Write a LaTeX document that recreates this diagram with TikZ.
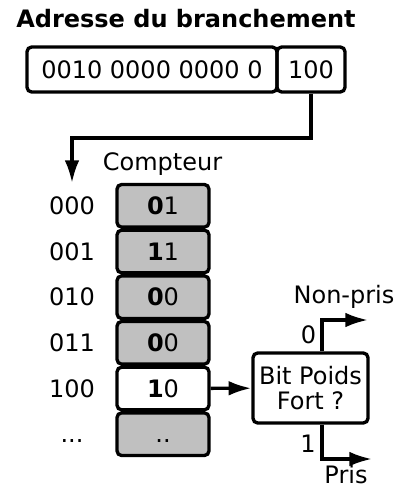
\documentclass[tikz,border=0pt]{standalone}
\usepackage{fontspec}
\setmainfont{DejaVu Sans}
\usetikzlibrary{arrows.meta}
\definecolor{cellgray}{RGB}{192,192,192}

\begin{document}
\begin{tikzpicture}[x=0.75pt,y=-0.75pt,>={Latex[length=17pt,width=11pt]},
		line width=2.5pt,
		every node/.style={font=\fontsize{18}{19}\selectfont},
		box/.style={draw,rounded corners=3.5pt,inner sep=0pt,minimum height=33.75pt},
		cell/.style={box,fill=cellgray,minimum width=69pt,minimum height=32pt}]
	\useasboundingbox (0,0) rectangle (406,488);

	\node[font=\fontsize{18}{19}\selectfont\bfseries,anchor=base] (titre) at (186,28) {Adresse du branchement};
	\node[box,minimum width=187.5pt] (adr) at (152,69.5) {0010 0000 0000 0};
	\node[box,minimum width=51pt] (idx) at (311,69.5) {100};

	\node[anchor=base] (cpt) at (162.5,171) {Compteur};

	\node[cell] (c0) at (163,205.8) {\textbf{0}1};
	\node[cell] (c1) at (163,251.5) {\textbf{1}1};
	\node[cell] (c2) at (163,297.2) {\textbf{0}0};
	\node[cell] (c3) at (163,342.8) {\textbf{0}0};
	\node[cell,fill=white] (c4) at (163,388.5) {\textbf{1}0};
	\node[cell] (c5) at (163,434.2) {\vphantom{0}..};

	\node (l0) at (72,205.8) {000};
	\node (l1) at (72,251.5) {001};
	\node (l2) at (72,297.2) {010};
	\node (l3) at (72,342.8) {011};
	\node (l4) at (72,388.5) {100};
	\node (l5) at (72,434.2) {\vphantom{0}...};

	% index -> table
	\coordinate (coude) at (72,138);
	\coordinate (ptr) at (72,183);
	\draw[->] (idx.south) |- (coude) -- (ptr);

	\node[box,minimum width=86.25pt,minimum height=52.5pt,align=center] (bpf) at (310.5,388) {Bit Poids\\Fort ?};
	\draw[->] (c4) -- (bpf);

	% sorties
	\coordinate (s0) at (322,320);
	\coordinate (f0) at (368,320);
	\coordinate (s1) at (322,459);
	\coordinate (f1) at (372,459);
	\draw[->] (s0 |- bpf.north) -- (s0) -- (f0);
	\draw[->] (s1 |- bpf.south) -- (s1) -- (f1);

	\node (zero) at (308.5,334.5) {0};
	\node (un) at (308,443.5) {1};
	\node[anchor=base] (nonpris) at (344,303) {Non-pris};
	\node[anchor=base,inner sep=0pt] (pris) at (346,483) {Pris};
\end{tikzpicture}
\end{document}
